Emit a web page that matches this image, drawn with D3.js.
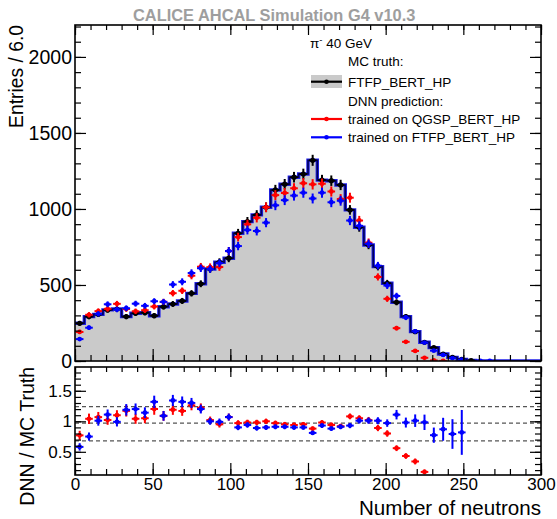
<!DOCTYPE html>
<html>
<head>
<meta charset="utf-8">
<script src="https://cdn.jsdelivr.net/npm/d3@7"></script>
<style>
  body { margin: 0; background: #fff; }
  text { font-family: "Liberation Sans", Arial, sans-serif; }
</style>
</head>
<body>
<div id="chart"></div>
<script>
/* global d3 */

// bins: lower edges, width 6
const binWidth = 6
const binEdges = d3.range(0, 300, binWidth)

// MC truth, FTFP_BERT_HP (entries per bin)
const mcTruth = [248, 292, 307, 336, 342, 292, 314, 318, 298, 357,
  375, 395, 445, 508, 605, 650, 676, 840, 917, 961,
  1011, 1125, 1163, 1209, 1230, 1320, 1190, 1186, 1158, 994,
  880, 763, 621, 511, 386, 292, 193, 123, 88, 46,
  24, 11, 3, 0, 0, 0, 0, 0, 0, 0]

// DNN prediction trained on QGSP_BERT_HP
const dnnQGSP = [191, 304, 328, 343, 376, 342, 327, 334, 358, 389,
  446, 462, 561, 620, 617, 618, 723, 815, 899, 942,
  1011, 1091, 1105, 1136, 1169, 1162, 1166, 1115, 1065, 1074,
  924, 778, 553, 409, 216, 126, 66, 21, 4, 1,
  0, 0, 0, 0, 0, 0, 0, 0, 0, 0]

// DNN prediction trained on FTFP_BERT_HP
const dnnFTFP = [144, 219, 310, 373, 339, 347, 377, 363, 393, 389,
  503, 521, 579, 610, 605, 644, 723, 756, 862, 855,
  910, 1024, 1058, 1088, 1107, 1069, 1107, 1044, 1054, 924,
  889, 771, 627, 496, 428, 286, 195, 121, 68, 40,
  19, 9, 0, 1, 1, 0, 0, 0, 0, 0]

const xTicks = [0, 50, 100, 150, 200, 250, 300]
const yMainTicks = [0, 500, 1000, 1500, 2000]
const yRatioTicks = [0.5, 1, 1.5]
const ratioLines = [0.68, 0.97, 1.24]

const legendItems = [
  {label: 'trained on QGSP_BERT_HP', color: '#ff0000'},
  {label: 'trained on FTFP_BERT_HP', color: '#0000ff'}
]

// canvas
const width = 557, height = 519
const left = 75, right = 541
const mainTop = 25, mainBottom = 361
const ratioTop = 367, ratioBottom = 475

let svg = d3.select('#chart').append('svg')
  .attr('width', width).attr('height', height)

let x = d3.scaleLinear().domain([0, 300]).range([left, right])
let y = d3.scaleLinear().domain([0, 2210]).range([mainBottom, mainTop])
let yr = d3.scaleLinear().domain([0.12, 1.89]).range([ratioBottom, ratioTop])

svg.append('clipPath').attr('id', 'clipMain').append('rect')
  .attr('x', left).attr('y', mainTop).attr('width', right - left).attr('height', mainBottom - mainTop)
svg.append('clipPath').attr('id', 'clipRatio').append('rect')
  .attr('x', left).attr('y', ratioTop).attr('width', right - left).attr('height', ratioBottom - ratioTop)

// ---- main panel ----
let main = svg.append('g').attr('clip-path', 'url(#clipMain)')

let stepData = binEdges.map((b, i) => [b, mcTruth[i]])
stepData.push([300, mcTruth[mcTruth.length - 1]])

main.append('path')
  .attr('d', d3.area().x(d => x(d[0])).y0(y(0)).y1(d => y(d[1])).curve(d3.curveStepAfter)(stepData))
  .attr('fill', '#cacaca')

let stepLine = d3.line().x(d => x(d[0])).y(d => y(d[1])).curve(d3.curveStepAfter)
main.append('path').attr('d', stepLine(stepData))
  .attr('fill', 'none').attr('stroke', '#2020e8').attr('stroke-width', 3.4)
main.append('path').attr('d', stepLine(stepData))
  .attr('fill', 'none').attr('stroke', '#00005a').attr('stroke-width', 1.6)

let drawPoints = (g, values, color, ys, errFn, r) => {
  let pts = binEdges.map((b, i) => ({xc: b + binWidth / 2, v: values[i], i: i}))
    .filter(d => d.v > 0)
  let grp = g.append('g')
  pts.forEach(d => {
    let e = errFn(d)
    if (e == null) return
    let cx = x(d.xc), cy = ys(e.v)
    grp.append('line').attr('x1', cx).attr('x2', cx)
      .attr('y1', ys(e.v - e.err)).attr('y2', ys(e.v + e.err))
      .attr('stroke', color).attr('stroke-width', 2)
    grp.append('line').attr('x1', cx - 3.8).attr('x2', cx + 3.8)
      .attr('y1', cy).attr('y2', cy)
      .attr('stroke', color).attr('stroke-width', 2)
    grp.append('circle').attr('cx', cx).attr('cy', cy).attr('r', r).attr('fill', color)
  })
}

let countErr = d => ({v: d.v, err: Math.sqrt(d.v)})
drawPoints(main, mcTruth, '#000000', y, countErr, 2.6)
drawPoints(main, dnnQGSP, '#ff0000', y, countErr, 2.4)
drawPoints(main, dnnFTFP, '#0000ff', y, countErr, 2.4)

// ---- ratio panel ----
let ratio = svg.append('g').attr('clip-path', 'url(#clipRatio)')

ratio.selectAll('.ref').data(ratioLines).enter().append('line')
  .attr('x1', left).attr('x2', right)
  .attr('y1', d => yr(d)).attr('y2', d => yr(d))
  .attr('stroke', '#555').attr('stroke-width', 1.3).attr('stroke-dasharray', '4,3')

let ratioErr = pred => d => {
  let m = mcTruth[d.i]
  if (m <= 0) return null
  let r = pred[d.i] / m
  if (r < yr.domain()[0]) return null
  return {v: r, err: r * Math.sqrt(1 / pred[d.i] + 1 / m)}
}
drawPoints(ratio, dnnQGSP, '#ff0000', yr, ratioErr(dnnQGSP), 2.4)
drawPoints(ratio, dnnFTFP, '#0000ff', yr, ratioErr(dnnFTFP), 2.4)

// ---- axes ----
let styleAxis = (g) => {
  g.select('.domain').remove()
  g.selectAll('.tick line').attr('stroke', '#000').attr('stroke-width', 1.2)
  return g
}
let minorX = d3.range(0, 301, 10)

let addAxes = (top, bottom, ys, majorY, minorY, yFmt, yFont, xLabels) => {
  // x bottom
  styleAxis(svg.append('g').attr('transform', `translate(0,${bottom})`)
    .call(d3.axisBottom(x).tickValues(minorX).tickSize(-6).tickFormat('')))
  let xb = svg.append('g').attr('transform', `translate(0,${bottom})`)
    .call(d3.axisBottom(x).tickValues(xTicks).tickSize(-12).tickPadding(3)
      .tickFormat(xLabels ? d3.format('d') : ''))
  styleAxis(xb)
  xb.selectAll('text').attr('font-size', 17).attr('fill', '#000')
  // x top
  styleAxis(svg.append('g').attr('transform', `translate(0,${top})`)
    .call(d3.axisTop(x).tickValues(minorX).tickSize(-5).tickFormat('')))
  styleAxis(svg.append('g').attr('transform', `translate(0,${top})`)
    .call(d3.axisTop(x).tickValues(xTicks).tickSize(-10).tickFormat('')))
  // y left
  styleAxis(svg.append('g').attr('transform', `translate(${left},0)`)
    .call(d3.axisLeft(ys).tickValues(minorY).tickSize(-6).tickFormat('')))
  let yl = svg.append('g').attr('transform', `translate(${left},0)`)
    .call(d3.axisLeft(ys).tickValues(majorY).tickSize(-11).tickPadding(3).tickFormat(yFmt))
  styleAxis(yl)
  yl.selectAll('text').attr('font-size', yFont).attr('fill', '#000')
  // y right
  styleAxis(svg.append('g').attr('transform', `translate(${right},0)`)
    .call(d3.axisRight(ys).tickValues(minorY).tickSize(-6).tickFormat('')))
  styleAxis(svg.append('g').attr('transform', `translate(${right},0)`)
    .call(d3.axisRight(ys).tickValues(majorY).tickSize(-11).tickFormat('')))
  // frame
  svg.append('rect').attr('x', left).attr('y', top)
    .attr('width', right - left).attr('height', bottom - top)
    .attr('fill', 'none').attr('stroke', '#000').attr('stroke-width', 1.6)
}

addAxes(mainTop, mainBottom, y, yMainTicks, d3.range(0, 2201, 100), d3.format('d'), 19.5, false)
addAxes(ratioTop, ratioBottom, yr, yRatioTicks, d3.range(0.2, 1.81, 0.1).map(v => +v.toFixed(1)),
  d => d === 1 ? '1' : d3.format('.1f')(d), 17, true)

// ---- titles ----
svg.append('text').attr('x', 133).attr('y', 21)
  .attr('font-size', 16.4).attr('font-weight', 'bold').attr('fill', '#9e9e9e')
  .text('CALICE AHCAL Simulation G4 v10.3')

svg.append('text').attr('transform', `translate(23,${mainTop}) rotate(-90)`)
  .attr('text-anchor', 'end').attr('font-size', 19.3)
  .text('Entries / 6.0')

svg.append('text').attr('transform', `translate(34,${ratioTop}) rotate(-90)`)
  .attr('text-anchor', 'end').attr('font-size', 19.5)
  .text('DNN / MC Truth')

svg.append('text').attr('x', right).attr('y', 515)
  .attr('text-anchor', 'end').attr('font-size', 20.6)
  .text('Number of neutrons')

// ---- legend ----
let leg = svg.append('g').attr('font-size', 13.5)
let pi = leg.append('text').attr('x', 310).attr('y', 47.5)
pi.append('tspan').text('\u03c0')
pi.append('tspan').attr('dy', -5).attr('font-size', 9.5).text('-')
pi.append('tspan').attr('dy', 5).text(' 40 GeV')

leg.append('text').attr('x', 348).attr('y', 66.3).text('MC truth:')
leg.append('rect').attr('x', 311).attr('y', 75).attr('width', 31).attr('height', 13).attr('fill', '#cacaca')
leg.append('line').attr('x1', 311).attr('x2', 342).attr('y1', 81.7).attr('y2', 81.7)
  .attr('stroke', '#000').attr('stroke-width', 2.2)
leg.append('circle').attr('cx', 326.5).attr('cy', 81.7).attr('r', 2.3).attr('fill', '#000')
leg.append('text').attr('x', 348).attr('y', 86.5).text('FTFP_BERT_HP')
leg.append('text').attr('x', 348).attr('y', 105.8).text('DNN prediction:')

legendItems.forEach((d, i) => {
  let cy = 119 + i * 18.3
  leg.append('line').attr('x1', 311).attr('x2', 342).attr('y1', cy).attr('y2', cy)
    .attr('stroke', d.color).attr('stroke-width', 2.2)
  leg.append('circle').attr('cx', 326.5).attr('cy', cy).attr('r', 2.3).attr('fill', d.color)
  leg.append('text').attr('x', 348).attr('y', cy + 4.8).text(d.label)
})
</script>
</body>
</html>
